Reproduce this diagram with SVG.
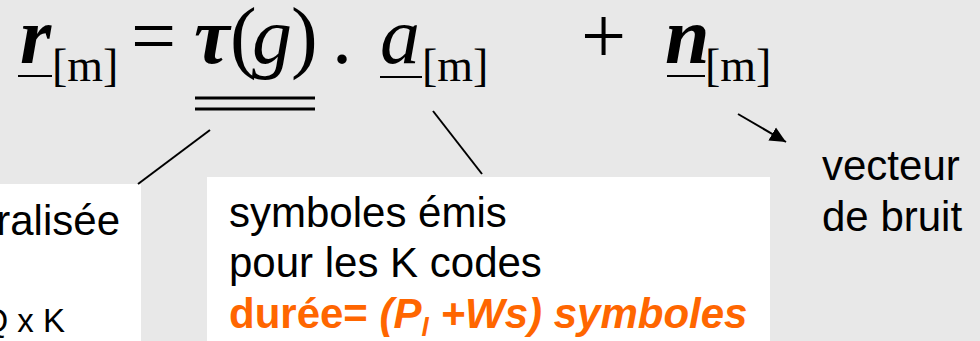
<svg xmlns="http://www.w3.org/2000/svg" width="980" height="341" viewBox="0 0 980 341">
<defs>
<style>
.eq{font-family:"Liberation Serif","Times New Roman",serif;font-size:80px;fill:#000}
.bi{font-weight:bold;font-style:italic}
.it{font-style:italic}
.sub{font-family:"Liberation Serif","Times New Roman",serif;font-size:46px;fill:#000}
.txt{font-family:"Liberation Sans",Arial,sans-serif;font-size:42px;fill:#000}
.or{font-family:"Liberation Sans",Arial,sans-serif;font-size:42px;fill:#ff6600;font-weight:bold}
.ul{stroke:#000;stroke-width:2}
.con{stroke:#000;stroke-width:2;fill:none}
</style>
<marker id="ah" markerUnits="userSpaceOnUse" markerWidth="18" markerHeight="16" refX="16" refY="8" orient="auto">
<path d="M0,0.5 L16,8 L0,15.5 Z" fill="#000"/>
</marker>
</defs>
<rect x="0" y="0" width="980" height="341" fill="#e8e8e8"/>

<g id="equation">
<text class="eq bi" x="20" y="63">r</text>
<line class="ul" x1="18" y1="76" x2="52" y2="76"/>
<text class="sub" x="52" y="81">[m]</text>
<text class="eq" x="131" y="63">=</text>
<text class="eq" x="194" y="63"><tspan class="bi">τ</tspan><tspan x="230">(</tspan><tspan class="it" x="252">g</tspan><tspan x="291">)</tspan></text>
<text class="eq" x="332" y="63">.</text>
<text class="eq it" x="380" y="63">a</text>
<line class="ul" x1="380" y1="77" x2="422" y2="77"/>
<text class="sub" x="422" y="81">[m]</text>
<text class="eq" x="581" y="63">+</text>
<text class="eq bi" x="665" y="63">n</text>
<line class="ul" x1="667" y1="76" x2="705" y2="76"/>
<text class="sub" x="705" y="81">[m]</text>
<line x1="195" y1="98" x2="315" y2="98" stroke="#000" stroke-width="3"/>
<line x1="195" y1="109" x2="315" y2="109" stroke="#000" stroke-width="3"/>
</g>

<g id="box-matrice">
<rect x="0" y="184" width="141" height="160" fill="#fff"/>
<text class="txt" x="120" y="235" text-anchor="end">ralisée</text>
<text class="txt" x="65" y="332" text-anchor="end" style="font-size:33px">Q x K</text>
</g>

<g id="box-symboles">
<rect x="207" y="177" width="563" height="167" fill="#fff"/>
<text class="txt" x="229" y="227">symboles émis</text>
<text class="txt" x="229" y="277">pour les K codes</text>
<text class="or" x="229" y="328">durée= <tspan font-style="italic">(P</tspan><tspan font-style="italic" font-size="26" dy="8">l</tspan><tspan font-style="italic" dy="-8"> +Ws) symboles</tspan></text>
</g>

<g id="label-bruit">
<text class="txt" x="822" y="180">vecteur</text>
<text class="txt" x="822" y="231">de bruit</text>
</g>

<g id="connectors">
<line class="con" x1="210" y1="130" x2="138" y2="184"/>
<line class="con" x1="433" y1="111" x2="482" y2="174"/>
<line class="con" x1="738" y1="114" x2="786" y2="142" marker-end="url(#ah)"/>
</g>
</svg>
